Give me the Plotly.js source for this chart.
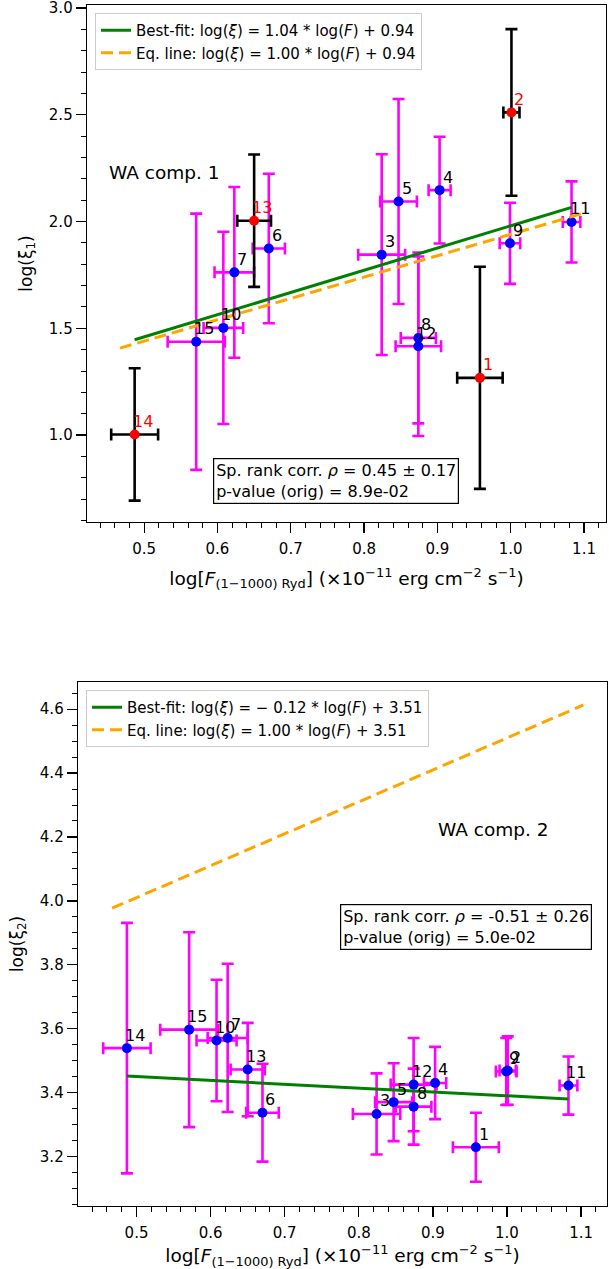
<!DOCTYPE html>
<html><head><meta charset="utf-8">
<script src="https://cdn.plot.ly/plotly-3.0.1.min.js"></script>
<style>html,body{margin:0;padding:0;background:#fff}#plot{width:609px;height:1269px}</style>
</head><body><div id="plot"></div>
<script>
// ---- data ----
const ids = ['1','2','3','4','5','6','7','8','9','10','11','12','13','14','15'];
const flux = [0.958,1.001,0.824,0.903,0.847,0.670,0.623,0.874,0.999,0.608,1.083,0.874,0.650,0.487,0.571];
const fluxErr = [0.031,0.011,0.032,0.015,0.025,0.022,0.027,0.024,0.014,0.027,0.012,0.031,0.023,0.032,0.039];
const xi1 = [1.268,2.511,1.845,2.147,2.094,1.874,1.762,1.455,1.898,1.502,1.998,1.416,2.004,1.003,1.437];
const xi1Err = [0.52,0.39,0.47,0.25,0.48,0.35,0.40,0.40,0.19,0.45,0.19,0.42,0.31,0.31,0.60];
const xi2 = [3.229,3.469,3.333,3.430,3.370,3.337,3.571,3.356,3.466,3.563,3.422,3.425,3.472,3.539,3.597];
const xi2Err = [0.108,0.107,0.127,0.113,0.122,0.153,0.232,0.119,0.105,0.190,0.091,0.146,0.146,0.392,0.305];
const outliers1 = ['1','2','13','14'];
const fit1 = {slope: 1.04, icpt: 0.94, eqSlope: 1.00};
const fit2 = {slope: -0.12, icpt: 3.51, eqSlope: 1.00};
const stats1 = ['Sp. rank corr. <i>ρ</i> = 0.45 ± 0.17', 'p-value (orig) = 8.9e-02'];
const stats2 = ['Sp. rank corr. <i>ρ</i> = -0.51 ± 0.26', 'p-value (orig) = 5.0e-02'];

const FONT = 'DejaVu Sans, sans-serif';
const MAG = '#ff00ff';
const pick = (arr, mask) => arr.filter((_, i) => mask[i]);
const isOut = ids.map(id => outliers1.includes(id));
const isIn = isOut.map(v => !v);

function errTrace(x, ex, y, ey, color, mcolor, xa, ya) {
  return {type:'scatter', mode:'markers', x, y, xaxis:xa, yaxis:ya, showlegend:false, hoverinfo:'skip',
    marker:{size:10, color:mcolor},
    error_x:{type:'data', array:ex, color, thickness:2.6, width:6},
    error_y:{type:'data', array:ey, color, thickness:2.6, width:6}};
}
function lineTraces(fit, xa, ya, leg) {
  const xmin = Math.min(...flux), xmax = Math.max(...flux);
  return [
    {type:'scatter', mode:'lines', x:[xmin, xmax], y:[fit.slope*xmin+fit.icpt, fit.slope*xmax+fit.icpt],
     xaxis:xa, yaxis:ya, legend:leg, line:{color:'green', width:3},
     name:'Best-fit: log(<i>ξ</i>) = ' + (fit.slope<0?'− ':'') + Math.abs(fit.slope).toFixed(2) + ' * log(<i>F</i>) + ' + fit.icpt.toFixed(2)},
    {type:'scatter', mode:'lines', x:[xmin-0.02, xmax+0.02], y:[fit.eqSlope*(xmin-0.02)+fit.icpt, fit.eqSlope*(xmax+0.02)+fit.icpt],
     xaxis:xa, yaxis:ya, legend:leg, line:{color:'orange', width:3, dash:'12px,6px'},
     name:'Eq. line: log(<i>ξ</i>) = ' + fit.eqSlope.toFixed(2) + ' * log(<i>F</i>) + ' + fit.icpt.toFixed(2)}
  ];
}

const data = [
  errTrace(pick(flux,isIn), pick(fluxErr,isIn), pick(xi1,isIn), pick(xi1Err,isIn), MAG, 'blue', 'x', 'y'),
  errTrace(pick(flux,isOut), pick(fluxErr,isOut), pick(xi1,isOut), pick(xi1Err,isOut), 'black', 'red', 'x', 'y'),
  ...lineTraces(fit1, 'x', 'y', 'legend'),
  errTrace(flux, fluxErr, xi2, xi2Err, MAG, 'blue', 'x2', 'y2'),
  ...lineTraces(fit2, 'x2', 'y2', 'legend2')
];

const annotations = [];
ids.forEach((id, i) => {
  annotations.push({xref:'x', yref:'y', x:flux[i], y:xi1[i], text:id, showarrow:false, xshift:8, yshift:13,
    font:{family:FONT, size:16, color: isOut[i] ? 'red' : 'black'}});
  annotations.push({xref:'x2', yref:'y2', x:flux[i], y:xi2[i], text:id, showarrow:false, xshift:8, yshift:13,
    font:{family:FONT, size:16, color:'black'}});
});
annotations.push({xref:'paper', yref:'paper', x:107/609, y:1-173/1269, xanchor:'left', yanchor:'middle',
  text:'WA comp. 1', showarrow:false, font:{family:FONT, size:18.5, color:'black'}});
annotations.push({xref:'paper', yref:'paper', x:436/609, y:1-829/1269, xanchor:'left', yanchor:'middle',
  text:'WA comp. 2', showarrow:false, font:{family:FONT, size:18.5, color:'black'}});
annotations.push({xref:'paper', yref:'paper', x:213/609, y:1-458/1269, xanchor:'left', yanchor:'top', align:'left',
  text:stats1.join('<br>'), showarrow:false, bordercolor:'black', borderwidth:1.2, borderpad:2, bgcolor:'white',
  font:{family:FONT, size:16, color:'black'}});
annotations.push({xref:'paper', yref:'paper', x:340/609, y:1-904/1269, xanchor:'left', yanchor:'top', align:'left',
  text:stats2.join('<br>'), showarrow:false, bordercolor:'black', borderwidth:1.2, borderpad:2, bgcolor:'white',
  font:{family:FONT, size:16, color:'black'}});

const xTitle = 'log[<i>F</i><sub>(1−1000) Ryd</sub>] (×10<sup>−11</sup> erg cm<sup>−2</sup> s<sup>−1</sup>)';
function xaxis(domain, range) {
  return {domain, range, showgrid:false, zeroline:false, showline:true, mirror:true,
    linecolor:'black', linewidth:1.3, ticks:'outside', ticklen:10, tickwidth:1.3, tickcolor:'black',
    ticklabelstandoff:3, ticklabeloverflow:'allow',
    tick0:0, dtick:0.1, tickformat:'.1f', tickfont:{family:FONT, size:15, color:'black'},
    minor:{dtick:0.02, ticks:'outside', ticklen:5, tickwidth:1, tickcolor:'black', showgrid:false},
    title:{text:xTitle, font:{family:FONT, size:18.5, color:'black'}, standoff:14}};
}
function yaxis(domain, range, dtick, mdtick, title) {
  return {domain, range, showgrid:false, zeroline:false, showline:true, mirror:true,
    linecolor:'black', linewidth:1.3, ticks:'outside', ticklen:10, tickwidth:1.3, tickcolor:'black',
    ticklabeloverflow:'allow',
    tick0:0, dtick, tickformat:'.1f', tickfont:{family:FONT, size:15, color:'black'},
    minor:{dtick:mdtick, ticks:'outside', ticklen:5, tickwidth:1, tickcolor:'black', showgrid:false},
    title:{text:title, font:{family:FONT, size:17, color:'black'}, standoff:12}};
}

const xa1 = xaxis([87/609, 606/609], [0.422, 1.13]); xa1.anchor = 'y';
const xa2 = xaxis([78/609, 607/609], [0.421, 1.135]); xa2.anchor = 'y2';
const ya1 = yaxis([1-522/1269, 1-5/1269], [0.593, 3.014], 0.5, 0.1, 'log(ξ<sub>1</sub>)'); ya1.anchor = 'x';
const ya2 = yaxis([1-1206/1269, 1-682/1269], [3.045, 4.685], 0.2, 0.05, 'log(ξ<sub>2</sub>)'); ya2.anchor = 'x2';

const legendStyle = {xref:'paper', yref:'paper', xanchor:'left', yanchor:'top', bgcolor:'white',
  bordercolor:'#cccccc', borderwidth:1, font:{family:FONT, size:15, color:'black'}, tracegroupgap:0};

const layout = {
  width:609, height:1269, margin:{l:0, r:0, t:0, b:0}, paper_bgcolor:'white', plot_bgcolor:'white',
  font:{family:FONT, color:'black'},
  xaxis:xa1, yaxis:ya1, xaxis2:xa2, yaxis2:ya2,
  legend:Object.assign({x:95/609, y:1-13/1269}, legendStyle),
  legend2:Object.assign({x:86/609, y:1-690/1269}, legendStyle),
  annotations
};
Plotly.newPlot('plot', data, layout, {staticPlot:true, displayModeBar:false});
</script></body></html>
